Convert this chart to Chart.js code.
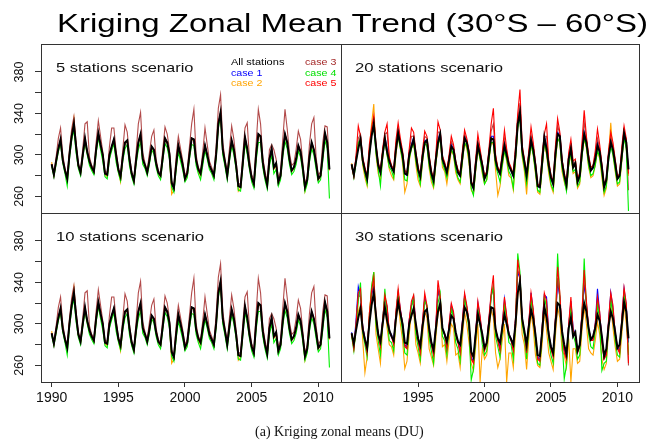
<!DOCTYPE html>
<html>
<head>
<meta charset="utf-8">
<script src="https://cdn.jsdelivr.net/npm/chart.js"></script>
<style>
  body { margin: 0; background: #fff; }
  #fig { position: relative; width: 654px; height: 445px; overflow: hidden; font-family: 'Liberation Sans', Arial, sans-serif; }
  #fig canvas { position: absolute; left: 0; top: 0; }
  .frame { position: absolute; box-sizing: border-box; border: 1px solid #333; z-index: 5; }
  .line { position: absolute; background: #333; z-index: 5; }
  .txt { position: absolute; white-space: nowrap; line-height: 1; transform-origin: 0 0; z-index: 6; }
  .leg { font-size: 9px; }
  .panel-label { font-size: 13.5px; color: #111; }
</style>
</head>
<body>
<div id="fig">
  <canvas id="p5" width="654" height="445"></canvas>
  <canvas id="p20" width="654" height="445"></canvas>
  <canvas id="p10" width="654" height="445"></canvas>
  <canvas id="p30" width="654" height="445"></canvas>

  <div class="frame" style="left:41px;top:44px;width:599px;height:339px"></div>
  <div class="line" style="left:341px;top:44px;width:1px;height:339px"></div>
  <div class="line" style="left:41px;top:213px;width:599px;height:1px"></div>

  <div class="txt" data-w="591" style="left:57px;top:10px;font-size:26px;color:#000">Kriging Zonal Mean Trend (30°S – 60°S)</div>

  <div class="txt panel-label" data-w="138" style="left:56px;top:61px">5 stations scenario</div>
  <div class="txt panel-label" data-w="148" style="left:355px;top:61px">20 stations scenario</div>
  <div class="txt panel-label" data-w="148" style="left:56px;top:229.5px">10 stations scenario</div>
  <div class="txt panel-label" data-w="148" style="left:355px;top:229.5px">30 stations scenario</div>

  <div class="txt leg" data-w="54" style="left:231px;top:57.5px;color:#000">All stations</div>
  <div class="txt leg" data-w="32" style="left:231px;top:68.5px;color:#0000FF">case 1</div>
  <div class="txt leg" data-w="32" style="left:231px;top:79px;color:#FFA500">case 2</div>
  <div class="txt leg" data-w="32" style="left:305px;top:57.5px;color:#A52A2A">case 3</div>
  <div class="txt leg" data-w="32" style="left:305px;top:68.5px;color:#00E000">case 4</div>
  <div class="txt leg" data-w="32" style="left:305px;top:79px;color:#FF0000">case 5</div>

  <div class="txt" style="left:255px;top:425px;font-family:'Liberation Serif', serif;font-size:14px;color:#111">(a) Kriging zonal means (DU)</div>
</div>
<script>
// bi-monthly sample times (decimal years)
const times = [
  1990,1990.167,1990.333,1990.5,1990.667,1990.833,
  1991,1991.167,1991.333,1991.5,1991.667,1991.833,
  1992,1992.167,1992.333,1992.5,1992.667,1992.833,
  1993,1993.167,1993.333,1993.5,1993.667,1993.833,
  1994,1994.167,1994.333,1994.5,1994.667,1994.833,
  1995,1995.167,1995.333,1995.5,1995.667,1995.833,
  1996,1996.167,1996.333,1996.5,1996.667,1996.833,
  1997,1997.167,1997.333,1997.5,1997.667,1997.833,
  1998,1998.167,1998.333,1998.5,1998.667,1998.833,
  1999,1999.167,1999.333,1999.5,1999.667,1999.833,
  2000,2000.167,2000.333,2000.5,2000.667,2000.833,
  2001,2001.167,2001.333,2001.5,2001.667,2001.833,
  2002,2002.167,2002.333,2002.5,2002.667,2002.833,
  2003,2003.167,2003.333,2003.5,2003.667,2003.833,
  2004,2004.167,2004.333,2004.5,2004.667,2004.833,
  2005,2005.167,2005.333,2005.5,2005.667,2005.833,
  2006,2006.167,2006.333,2006.5,2006.667,2006.833,
  2007,2007.167,2007.333,2007.5,2007.667,2007.833,
  2008,2008.167,2008.333,2008.5,2008.667,2008.833,
  2009,2009.167,2009.333,2009.5,2009.667,2009.833,
  2010,2010.167,2010.333,2010.5,2010.667,2010.833
];

// "All stations" reference, same in every panel
const allStations = [
  291,281,294,306,315,295, 285,277,300,318,330,308, 290,283,300,316,303,294,
  288,284,305,321,310,300, 282,281,300,308,315,300, 286,279,298,312,314,296,
  282,275,295,312,320,296, 290,283,295,308,305,292, 283,280,298,316,312,301,
  273,268,290,309,300,290, 277,282,300,316,315,295, 286,282,296,309,300,290,
  285,280,300,330,341,305, 293,280,298,314,305,290, 270,269,292,317,306,290,
  278,272,300,320,318,293, 280,271,296,306,288,292, 274,280,303,320,312,296,
  285,288,296,309,303,288, 269,276,298,312,305,292, 277,280,300,321,312,286
];

// 5 and 10 stations scenarios (they look the same)
const lowCase2 = [
  293,280,293,305,314,294, 284,276,301,320,335,307, 289,282,299,315,302,293,
  287,283,304,320,309,299, 281,279,299,307,314,299, 284,274,297,311,313,295,
  280,274,294,311,319,295, 289,282,294,307,304,291, 282,279,297,315,311,300,
  262,266,289,308,299,289, 276,280,299,315,314,294, 284,280,295,308,299,289,
  284,279,299,329,340,304, 291,279,297,313,304,289, 265,268,291,316,305,289,
  277,271,299,319,317,292, 279,270,295,305,286,290, 273,279,302,319,311,295,
  284,287,295,308,302,287, 265,275,297,311,304,291, 276,279,299,320,311,285
];
const lowCase3 = [
  291,282,298,316,326,300, 287,279,305,325,337,312, 292,285,306,330,332,298,
  290,286,312,333,318,303, 284,283,308,326,326,304, 288,281,305,329,322,300,
  284,277,302,330,341,302, 292,285,302,318,324,296, 285,282,305,327,320,305,
  275,270,298,318,306,294, 280,285,308,330,344,300, 288,284,303,326,310,294,
  288,282,308,345,358,312, 296,283,306,328,315,294, 273,271,300,326,331,296,
  281,275,310,344,330,298, 284,275,305,310,305,296, 277,284,315,344,325,302,
  290,292,305,323,315,293, 272,280,310,330,336,298, 280,284,312,328,327,290
];
const lowCase4 = [
  289,279,291,303,311,292, 282,270,296,314,324,302, 287,280,297,312,300,290,
  285,281,301,317,305,294, 279,277,296,304,311,293, 283,275,294,306,310,290,
  279,272,291,305,313,291, 287,280,291,305,301,288, 280,276,294,311,307,296,
  269,264,285,303,294,285, 274,278,296,310,309,290, 282,276,290,304,296,286,
  282,276,296,326,337,300, 289,276,294,309,300,286, 266,265,288,311,301,286,
  274,268,294,312,312,288, 276,267,290,300,282,286, 270,276,298,313,306,291,
  281,284,291,304,298,283, 265,272,293,306,300,286, 273,276,294,314,306,258
];

// 20 stations scenario
const midCase1 = [
  291,280,296,310,318,296, 286,277,302,320,328,308, 290,283,302,318,306,294,
  288,284,306,322,312,300, 282,280,302,310,317,300, 286,278,300,314,314,296,
  282,275,296,314,322,296, 290,282,296,310,306,292, 283,279,300,318,313,301,
  273,267,291,311,301,290, 277,282,302,318,318,295, 286,281,297,311,301,290,
  285,279,302,332,342,305, 293,279,299,316,306,290, 270,268,294,319,308,290,
  278,271,302,322,319,293, 280,270,297,308,289,292, 274,279,304,322,313,296,
  285,287,298,312,304,288, 269,275,300,316,306,292, 277,279,302,322,313,285
];
const midCase2 = [
  292,282,296,310,318,290, 278,270,305,330,349,300, 282,276,296,318,300,286,
  280,276,300,318,306,292, 264,272,294,306,312,290, 276,270,292,310,310,287,
  274,268,290,308,318,288, 284,272,288,304,300,283, 276,272,292,312,306,292,
  266,262,284,305,296,282, 272,276,294,312,310,285, 261,270,288,304,294,280,
  278,266,294,326,338,298, 284,262,290,310,300,282, 264,262,286,312,300,282,
  270,264,292,316,312,284, 274,266,290,300,282,284, 268,272,298,316,306,288,
  278,280,290,304,296,278, 261,268,300,331,300,284, 270,272,294,318,306,280
];
const midCase3 = [
  290,280,298,316,320,296, 286,278,304,322,332,308, 291,284,303,320,322,296,
  289,285,309,326,312,302, 283,282,303,318,318,301, 287,280,301,318,316,298,
  283,276,298,322,322,298, 291,284,298,313,308,293, 284,281,301,320,314,302,
  274,269,293,314,303,291, 278,283,303,323,330,298, 287,283,299,316,303,292,
  286,281,304,335,350,307, 294,281,301,320,308,292, 271,270,296,318,318,292,
  279,273,304,328,320,295, 281,272,299,310,291,294, 275,281,307,332,315,298,
  286,289,300,316,306,290, 270,277,301,317,308,294, 278,281,304,324,314,266
];
const midCase4 = [
  290,278,292,312,314,292, 282,272,298,320,326,302, 286,270,298,314,300,288,
  285,278,306,318,306,295, 276,275,296,306,312,294, 282,272,294,312,308,290,
  278,270,292,310,316,292, 286,278,296,306,300,286, 278,274,294,312,308,296,
  268,261,286,308,296,284, 272,276,296,312,312,290, 282,274,290,304,296,284,
  280,268,296,326,336,300, 288,272,294,310,300,284, 266,264,288,312,302,286,
  272,266,296,316,312,288, 276,265,290,302,284,286, 270,274,298,316,308,290,
  280,282,290,304,298,282, 264,270,294,308,300,286, 272,274,296,316,306,246
];
const midCase5 = [
  289,279,300,328,318,298, 288,280,310,326,338,310, 293,285,306,322,330,298,
  290,286,314,331,316,304, 285,283,306,326,322,303, 289,280,304,323,318,300,
  285,277,300,332,324,299, 293,285,300,318,310,294, 286,282,304,324,316,304,
  275,270,296,320,306,292, 280,284,306,330,345,300, 288,284,302,324,306,293,
  288,282,308,340,363,310, 296,282,304,327,312,293, 272,270,300,320,330,294,
  281,274,308,335,322,296, 283,273,302,315,294,296, 277,283,312,343,318,300,
  288,290,304,325,310,291, 271,278,304,322,312,296, 279,282,308,328,316,282
];

// 30 stations scenario
const hiCase1 = [
  292,278,304,336,326,298, 286,274,306,328,336,306, 290,280,304,326,316,292,
  290,282,310,330,314,300, 280,278,304,318,326,298, 286,274,300,326,316,294,
  282,272,298,332,324,296, 290,278,298,318,310,290, 284,274,302,328,316,300,
  268,264,292,320,306,288, 276,280,304,328,334,294, 286,276,298,324,306,290,
  286,276,304,350,344,304, 292,274,300,330,312,288, 268,266,296,328,326,290,
  278,270,304,340,326,292, 276,268,298,322,296,290, 274,280,310,338,320,296,
  286,286,300,334,310,286, 268,272,302,330,314,292, 278,274,304,334,318,282
];
const hiCase2 = [
  290,276,296,312,318,285, 253,268,310,335,350,290, 276,262,296,320,296,280,
  278,270,302,322,300,284, 257,264,290,310,314,280, 272,262,288,312,306,276,
  268,260,286,310,316,278, 280,264,284,300,296,270, 272,258,286,312,300,282,
  262,255,278,300,244,276, 266,270,290,314,306,272, 258,266,284,300,244,272,
  272,258,292,328,336,290, 280,256,286,310,296,270, 260,258,280,312,294,272,
  264,256,288,316,306,274, 270,258,286,244,276,276, 262,264,294,316,300,276,
  272,270,284,302,290,266, 256,262,292,318,296,278, 264,266,290,318,300,272
];
const hiCase3 = [
  291,277,300,328,326,296, 285,273,306,328,340,306, 290,279,302,326,316,292,
  289,281,310,330,312,298, 279,277,302,318,322,296, 285,273,300,324,316,292,
  281,271,296,334,322,294, 290,277,298,316,308,290, 283,273,300,326,316,300,
  267,263,290,316,304,288, 275,281,304,326,338,294, 285,275,296,320,306,290,
  285,275,304,352,346,304, 292,273,300,326,310,288, 267,265,294,324,318,290,
  277,269,302,344,326,290, 274,267,298,320,292,290, 273,279,308,344,318,294,
  285,285,298,324,308,284, 267,271,300,326,312,292, 277,273,304,330,316,260
];
const hiCase4 = [
  288,274,296,322,340,292, 280,268,304,336,350,300, 284,270,300,334,306,284,
  282,274,308,330,310,292, 272,270,298,316,326,290, 278,266,296,322,318,286,
  274,262,294,320,330,288, 284,270,296,314,306,282, 276,264,296,326,312,294,
  246,256,286,314,300,280, 270,274,298,326,336,288, 278,268,292,318,304,282,
  280,266,300,368,350,300, 288,266,296,322,312,282, 262,260,290,326,316,284,
  270,262,300,368,326,286, 247,260,294,316,290,282, 266,270,306,363,316,290,
  278,276,294,318,304,255, 262,264,298,322,310,284, 270,268,300,328,314,270
];
const hiCase5 = [
  290,276,300,330,334,298, 284,272,310,332,345,308, 290,278,304,328,318,292,
  288,280,312,334,314,300, 278,276,304,322,328,298, 284,272,302,330,318,294,
  280,270,298,342,326,296, 290,276,300,320,312,290, 282,272,302,330,318,302,
  266,262,292,322,308,288, 274,280,306,330,347,296, 284,274,298,326,308,290,
  284,274,306,362,345,306, 292,272,302,330,314,288, 266,264,296,330,322,290,
  276,268,306,355,330,292, 272,266,300,326,294,290, 272,278,312,352,322,296,
  284,284,300,326,312,282, 266,270,304,330,318,290, 276,272,306,335,320,262
];

const seriesLabels = ['All stations', 'case 1', 'case 2', 'case 3', 'case 4', 'case 5'];
const seriesColors = ['#000000', '#0000FF', '#FFA500', 'rgba(165,42,42,0.85)', '#00F000', '#FF0000'];

const yTicks = [260, 280, 300, 320, 340, 360, 380];
const yLabels = [260, 300, 340, 380];
const xTicksLeft = [1990, 1995, 2000, 2005, 2010];
const xTicksRight = [1995, 2000, 2005, 2010];

// fit html text widths to the stretched look of the original
document.querySelectorAll('[data-w]').forEach(el => {
  el.style.transform = 'scaleX(' + (+el.dataset.w / el.offsetWidth) + ')';
});

function drawPanel(id, values, area, showX, showY, xTicks) {
  const drawOrder = [0, 5, 4, 3, 2, 1]; // first one ends up on top
  new Chart(document.getElementById(id), {
    type: 'line',
    data: {
      labels: times,
      datasets: drawOrder.map(i => ({
        label: seriesLabels[i],
        data: values[i],
        borderColor: seriesColors[i],
        borderWidth: i === 0 ? 2 : 1.1,
        pointRadius: 0,
        tension: 0,
        fill: false
      }))
    },
    options: {
      responsive: false,
      animation: false,
      events: [],
      layout: {
        autoPadding: false,
        padding: {
          left: area[0] - (showY ? 30 : 0),
          top: area[1],
          right: 654 - area[2],
          bottom: 445 - area[3] - (showX ? 30 : 0)
        }
      },
      plugins: { legend: { display: false }, tooltip: { enabled: false }, title: { display: false } },
      scales: {
        x: {
          type: 'linear',
          min: 1989.2,
          max: 2011.7,
          display: showX,
          border: { display: false },
          grid: { drawOnChartArea: false, drawTicks: true, tickLength: 5, color: '#333' },
          ticks: {
            autoSkip: false,
            maxRotation: 0,
            padding: 3,
            color: '#111',
            font: { family: 'Liberation Sans', size: 14 },
            callback: v => String(v)
          },
          afterBuildTicks: s => { s.ticks = xTicks.map(v => ({ value: v })); },
          afterFit: s => { s.height = showX ? 30 : 0; }
        },
        y: {
          type: 'linear',
          min: 244,
          max: 407,
          display: showY,
          border: { display: false },
          grid: { drawOnChartArea: false, drawTicks: true, tickLength: 6, color: '#333' },
          ticks: {
            minRotation: 90,
            maxRotation: 90,
            crossAlign: 'center',
            padding: 5,
            color: '#111',
            font: { family: 'Liberation Sans', size: 12.5 },
            callback: v => yLabels.includes(v) ? String(v) : ''
          },
          afterBuildTicks: s => { s.ticks = yTicks.map(v => ({ value: v })); },
          afterFit: s => { s.width = showY ? 30 : 0; }
        }
      }
    }
  });
}

drawPanel('p5', [allStations, allStations, lowCase2, lowCase3, lowCase4, allStations], [41, 44, 341, 213], false, true, xTicksLeft);
drawPanel('p20', [allStations, midCase1, midCase2, midCase3, midCase4, midCase5], [341, 44, 640, 213], false, false, xTicksRight);
drawPanel('p10', [allStations, allStations, lowCase2, lowCase3, lowCase4, allStations], [41, 213, 341, 382], true, true, xTicksLeft);
drawPanel('p30', [allStations, hiCase1, hiCase2, hiCase3, hiCase4, hiCase5], [341, 213, 640, 382], true, false, xTicksRight);
</script>
</body>
</html>
